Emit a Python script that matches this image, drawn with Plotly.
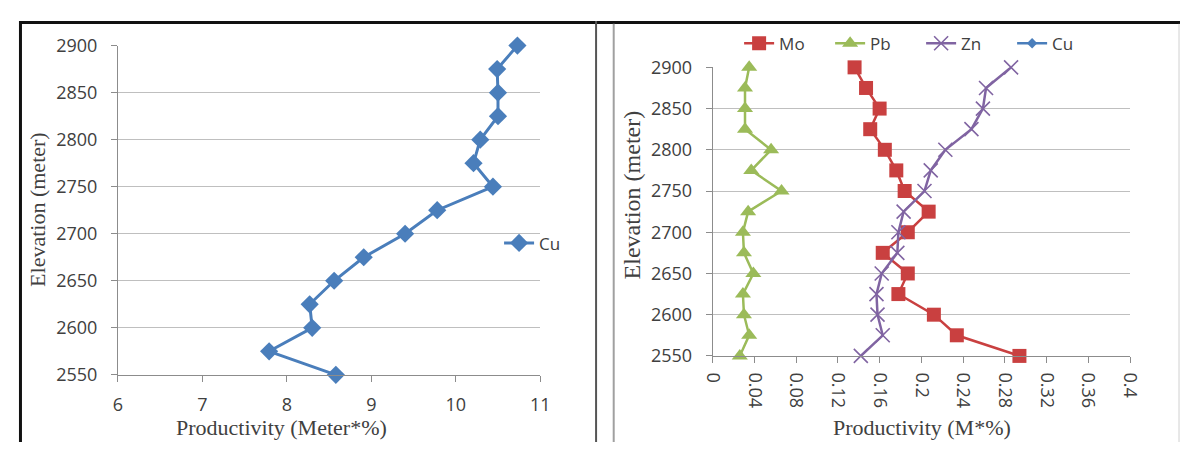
import plotly.graph_objects as go

# Page has an 8px default body margin on every side; size the figure so the page fits the window exactly.
OFF = 8
W, H = 1201 - 2 * OFF, 461 - 2 * OFF

elevation = [2900, 2875, 2850, 2825, 2800, 2775, 2750, 2725, 2700, 2675, 2650, 2625, 2600, 2575, 2550]
cu = [10.73, 10.49, 10.50, 10.50, 10.29, 10.21, 10.44, 9.78, 9.40, 8.91, 8.56, 8.27, 8.30, 7.79, 8.58]
mo = [0.136, 0.147, 0.160, 0.151, 0.165, 0.176, 0.184, 0.207, 0.187, 0.163, 0.187, 0.178, 0.212, 0.234, 0.294]
pb = [0.035, 0.031, 0.031, 0.031, 0.056, 0.037, 0.066, 0.034, 0.029, 0.030, 0.039, 0.029, 0.030, 0.035, 0.026]
zn = [0.286, 0.262, 0.259, 0.248, 0.223, 0.209, 0.203, 0.183, 0.178, 0.177, 0.162, 0.157, 0.158, 0.163, 0.142]

left_x_ticks = [6, 7, 8, 9, 10, 11]
right_x_ticks = [0, 0.04, 0.08, 0.12, 0.16, 0.2, 0.24, 0.28, 0.32, 0.36, 0.4]
right_x_labels = ["0", "0.04", "0.08", "0.12", "0.16", "0.2", "0.24", "0.28", "0.32", "0.36", "0.4"]
y_ticks = [2550, 2600, 2650, 2700, 2750, 2800, 2850, 2900]


def px(x):
    return (x - OFF) / W


def py(y):
    return 1 - (y - OFF) / H


BLUE = "#4A7EBB"
RED = "#C94040"
GREEN = "#9BBB59"
PURPLE = "#8064A2"
TXT = "#404040"
GRID = "#BFBFBF"
AX = "#8C8C8C"
SANS = "Open Sans"
SERIF = "Liberation Serif"

fig = go.Figure()

fig.add_trace(go.Scatter(
    x=cu, y=elevation, name="Cu", mode="lines+markers",
    line=dict(color=BLUE, width=3),
    marker=dict(symbol="diamond", size=14, color=BLUE),
    xaxis="x", yaxis="y", legend="legend", cliponaxis=False))

fig.add_trace(go.Scatter(
    x=mo, y=elevation, name="Mo", mode="lines+markers",
    line=dict(color=RED, width=2.5),
    marker=dict(symbol="square", size=14, color=RED),
    xaxis="x2", yaxis="y2", legend="legend2", cliponaxis=False))
fig.add_trace(go.Scatter(
    x=pb, y=elevation, name="Pb", mode="lines+markers",
    line=dict(color=GREEN, width=2.5),
    marker=dict(symbol="triangle-up", size=14, color=GREEN),
    xaxis="x2", yaxis="y2", legend="legend2", cliponaxis=False))
fig.add_trace(go.Scatter(
    x=zn, y=elevation, name="Zn", mode="lines+markers",
    line=dict(color=PURPLE, width=2.5),
    marker=dict(symbol="x-thin", size=14, color=PURPLE, line=dict(color=PURPLE, width=1.6)),
    xaxis="x2", yaxis="y2", legend="legend2", cliponaxis=False))
fig.add_trace(go.Scatter(
    x=cu, y=elevation, name="Cu", mode="lines+markers",
    line=dict(color=BLUE, width=2.5),
    marker=dict(symbol="diamond", size=8, color=BLUE),
    xaxis="x2", yaxis="y2", legend="legend2", cliponaxis=True))

tickfont = dict(family=SANS, size=18, color=TXT)

common_y = dict(
    range=[2550, 2900], tickvals=y_ticks, showgrid=True, gridcolor=GRID, gridwidth=1,
    showline=True, linecolor=AX, linewidth=1, ticks="outside", ticklen=6, tickcolor=AX,
    tickfont=tickfont, zeroline=False, ticklabelstandoff=10)

fig.update_layout(
    width=W, height=H, margin=dict(l=0, r=0, t=0, b=0),
    paper_bgcolor="white", plot_bgcolor="white", showlegend=True,
    xaxis=dict(domain=[px(109), px(540)], range=[6, 11], tickvals=left_x_ticks,
               showgrid=False, showline=True, linecolor=AX, linewidth=1,
               ticks="outside", ticklen=6, tickcolor=AX, tickfont=tickfont,
               zeroline=False, anchor="y", ticklabelstandoff=8),
    yaxis=dict(domain=[py(382), py(34)], anchor="x", **common_y),
    xaxis2=dict(domain=[px(716), px(1142)], range=[0, 0.4], tickvals=right_x_ticks,
                ticktext=right_x_labels, tickangle=90,
                showgrid=False, showline=True, linecolor=AX, linewidth=1,
                ticks="outside", ticklen=6, tickcolor=AX, tickfont=tickfont,
                zeroline=False, anchor="y2", ticklabelstandoff=6),
    yaxis2=dict(domain=[py(362), py(57)], anchor="x2", **common_y),
    legend=dict(x=px(498), y=py(243), xanchor="left", yanchor="middle",
                bgcolor="rgba(0,0,0,0)", font=dict(family=SANS, size=17, color=TXT)),
    legend2=dict(x=px(743), y=py(32), xanchor="left", yanchor="middle", orientation="h",
                 entrywidth=46, entrywidthmode="pixels",
                 bgcolor="rgba(0,0,0,0)", font=dict(family=SANS, size=17, color=TXT)),
)

annotations = [
    dict(text="Productivity (Meter*%)", x=px(276), y=py(438), showarrow=False,
         font=dict(family=SERIF, size=22, color=TXT), xanchor="center", yanchor="middle"),
    dict(text="Elevation (meter)", x=px(27), y=py(207), showarrow=False, textangle=-90,
         font=dict(family=SERIF, size=22, color=TXT), xanchor="center", yanchor="middle"),
    dict(text="Productivity (M*%)", x=px(930), y=py(438), showarrow=False,
         font=dict(family=SERIF, size=22, color=TXT), xanchor="center", yanchor="middle"),
    dict(text="Elevation (meter)", x=px(634), y=py(192), showarrow=False, textangle=-90,
         font=dict(family=SERIF, size=24, color=TXT), xanchor="center", yanchor="middle"),
]
for a in annotations:
    a["xref"] = "paper"
    a["yref"] = "paper"
fig.update_layout(annotations=annotations)

shapes = [
    dict(type="line", x0=px(8), x1=px(1193), y0=py(9.5), y1=py(9.5), line=dict(color="#111111", width=3)),
    dict(type="line", x0=px(9.5), x1=px(9.5), y0=py(8), y1=py(453), line=dict(color="#111111", width=3)),
    dict(type="line", x0=px(597), x1=px(597), y0=py(8), y1=py(453), line=dict(color="#555555", width=2)),
    dict(type="line", x0=px(615), x1=px(615), y0=py(11), y1=py(453), line=dict(color="#A0A0A0", width=2)),
    dict(type="line", x0=px(1192), x1=px(1192), y0=py(11), y1=py(453), line=dict(color="#D0D0D0", width=1)),
]
for s in shapes:
    s["xref"] = "paper"
    s["yref"] = "paper"
fig.update_layout(shapes=shapes)

fig.write_html("out.html")
